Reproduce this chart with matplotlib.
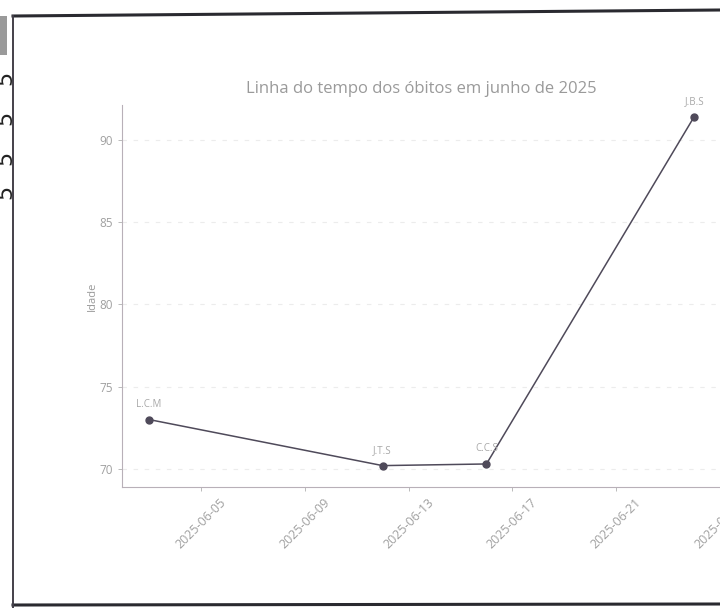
"""
Linha do tempo dos obitos em junho de 2025 (foto de tela recortada).
"""

import matplotlib
matplotlib.use("Agg")
import matplotlib.pyplot as plt
import matplotlib.dates as mdates
import numpy as np
import pandas as pd
from matplotlib.lines import Line2D
from matplotlib.patches import Rectangle

# Dados
datas = ["2025-06-03", "2025-06-12", "2025-06-16", "2025-06-24"]
idades = [73.0, 70.2, 70.3, 91.4]
iniciais = ["L.C.M", "J.T.S", "C.C.S", "J.B.S"]

plt.rcParams["font.family"] = ["Open Sans", "DejaVu Sans"]

TXT = "#9a9a9a"
LINHA = "#4f4a5a"


def main():
    fig = plt.figure(figsize=(7.2, 6.08), dpi=100)
    ax = fig.add_axes([0.169, 0.199, 0.833, 0.628])

    x = pd.to_datetime(datas)
    ax.plot(x, idades, "-o", color=LINHA, linewidth=1.1, markersize=5)

    for xi, yi, nome in zip(x, idades, iniciais):
        ax.annotate(nome, (xi, yi), xytext=(0, 7), textcoords="offset points",
                    ha="center", va="bottom", fontsize=7, color="#a8a8a8")

    ax.set_title("Linha do tempo dos óbitos em junho de 2025", fontsize=12,
                 color=TXT, pad=9)
    ax.set_ylabel("Idade", fontsize=8, color=TXT, labelpad=1)
    ax.set_ylim(68.9, 92.1)
    ax.set_yticks([70, 75, 80, 85, 90])

    ax.xaxis.set_major_locator(mdates.DayLocator(bymonthday=[1, 5, 9, 13, 17, 21, 25, 29]))
    ax.xaxis.set_major_formatter(mdates.DateFormatter("%Y-%m-%d"))
    plt.setp(ax.get_xticklabels(), rotation=45)

    ax.tick_params(colors="#b0b0b0", labelcolor="#a0a0a0", labelsize=9, length=3, width=0.6)
    ax.tick_params(axis="y", labelsize=8.5)
    ax.yaxis.grid(True, color="#ececec", linestyle=(0, (4, 6)), linewidth=0.8)
    ax.set_axisbelow(True)
    for side in ["top", "right"]:
        ax.spines[side].set_visible(False)
    for side in ["left", "bottom"]:
        ax.spines[side].set_color("#b8b0b8")
        ax.spines[side].set_linewidth(0.8)

    # Moldura da foto: bordas escuras e faixa a esquerda
    H = 608.0
    fig.add_artist(Line2D([13 / 720, 1.0], [1 - 16 / H, 1 - 10 / H], color="#2a2a30", linewidth=2.2))
    fig.add_artist(Line2D([13 / 720, 1.0], [1 - 605 / H, 1 - 604 / H], color="#2a2a30", linewidth=2.2))
    fig.add_artist(Line2D([13 / 720, 13 / 720], [1 - 16 / H, 0.0], color="#44404a", linewidth=1.4))
    fig.add_artist(Rectangle((0, 1 - 55 / H), 7 / 720, 39 / H, transform=fig.transFigure,
                             color="#9a9a9a", linewidth=0))
    for yy in [78, 118, 158, 192]:
        fig.text(-5 / 720, 1 - yy / H, "5", fontsize=16, color="#222222",
                 rotation=90, ha="left", va="center", family="DejaVu Sans")

    fig.savefig("out.png", dpi=100)
    plt.close(fig)
    return


if __name__ == "__main__":
    main()
